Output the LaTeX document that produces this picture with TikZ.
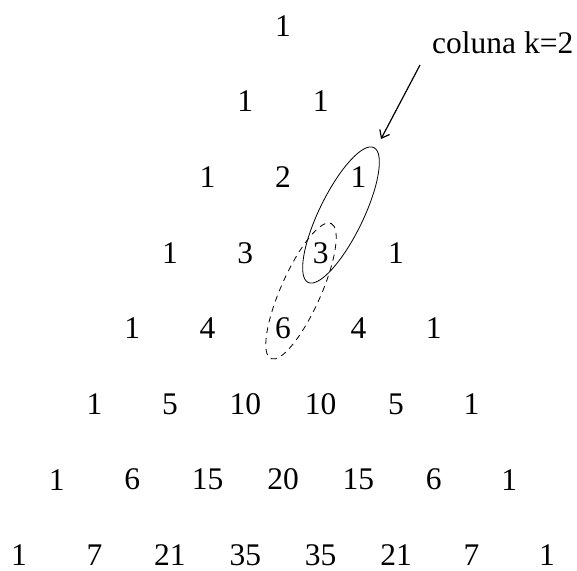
\documentclass[tikz,border=0pt]{standalone}
\usepackage{fontspec}
\setmainfont{Liberation Serif}
\usetikzlibrary{arrows.meta}
\begin{document}
\begin{tikzpicture}[x=1pt,y=-1pt,
  num/.style={inner sep=0pt,font=\fontsize{31.5}{37}\selectfont},
  loop/.style={line width=0.8pt},
  dloop/.style={line width=0.8pt,dash pattern=on 6pt off 5pt},
  pointer/.style={line width=1.2pt,-{Straight Barb[length=7pt,width=11pt]}}]
\useasboundingbox (0,0) rectangle (577,570);
\foreach \row/\vals in {0/{1},1/{1,1},2/{1,2,1},3/{1,3,3,1},4/{1,4,6,4,1},5/{1,5,10,10,5,1},6/{1,6,15,20,15,6,1},7/{1,7,21,35,35,21,7,1}}{
  \foreach \v [count=\j from 0] in \vals {
    \node[num] (n-\row-\j) at ({283+(\j-\row/2)*75.4},{26+75.6*\row}) {\v};
  }
}
\draw[loop] (341,215) ellipse[x radius=75, y radius=22, rotate=64];
\draw[dloop] (301,291) ellipse[x radius=74, y radius=20, rotate=66];
\node[num,anchor=base west] (lab) at (432,53) {coluna k=2};
\coordinate (from) at (420,65);
\coordinate (to) at (381,139);
\draw[pointer] (from) -- (to);
\end{tikzpicture}
\end{document}
